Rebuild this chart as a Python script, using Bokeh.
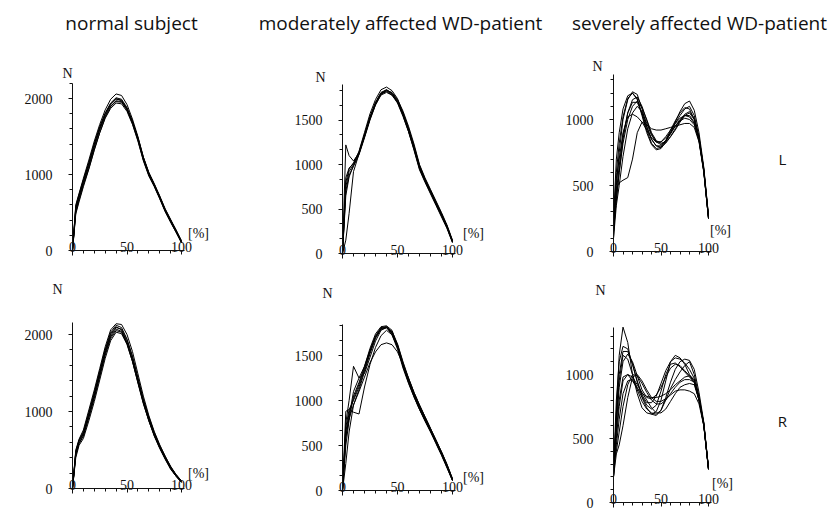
from bokeh.plotting import figure
from bokeh.layouts import row, column
from bokeh.models import Range1d, FixedTicker, Label
from bokeh.embed import file_html
from bokeh.resources import INLINE

# ---------------- data ----------------
pct = [0, 3, 6, 10, 15, 20, 25, 30, 35, 40, 45, 50, 55, 60, 65, 70, 75, 80, 85, 90, 95, 100]

titles = ["normal subject", "moderately affected WD-patient", "severely affected WD-patient"]
side_labels = ["L", "R"]
x_ticks = [0, 50, 100]

normal_L = [
    [0, 560, 720, 920, 1150, 1400, 1620, 1800, 1930, 2000, 1970, 1850, 1670, 1450, 1190, 990, 850, 690, 520, 380, 250, 110],
    [0, 520, 690, 880, 1110, 1360, 1590, 1770, 1900, 1960, 1950, 1850, 1690, 1470, 1210, 1010, 860, 700, 530, 390, 250, 100],
    [0, 600, 750, 950, 1190, 1440, 1660, 1850, 1990, 2060, 2040, 1920, 1730, 1500, 1230, 1020, 870, 710, 540, 400, 260, 120],
    [0, 500, 660, 860, 1080, 1330, 1550, 1740, 1870, 1940, 1930, 1830, 1660, 1440, 1180, 980, 840, 680, 510, 370, 240, 100],
    [0, 540, 710, 900, 1130, 1380, 1600, 1790, 1920, 1990, 1980, 1870, 1700, 1480, 1220, 1020, 870, 710, 540, 400, 270, 130],
    [0, 480, 640, 840, 1070, 1320, 1550, 1750, 1890, 1970, 1960, 1860, 1700, 1490, 1230, 1030, 880, 720, 550, 410, 270, 120],
    [0, 580, 740, 930, 1160, 1410, 1630, 1810, 1940, 2010, 1990, 1880, 1700, 1470, 1200, 1000, 850, 690, 520, 380, 240, 110],
]
normal_R = [
    [0, 470, 620, 720, 970, 1230, 1510, 1790, 2010, 2100, 2060, 1900, 1670, 1390, 1120, 890, 690, 530, 390, 260, 160, 80],
    [0, 430, 580, 680, 920, 1170, 1450, 1730, 1950, 2050, 2030, 1890, 1670, 1400, 1130, 900, 700, 540, 400, 270, 170, 90],
    [0, 500, 640, 760, 1020, 1280, 1560, 1840, 2060, 2140, 2130, 2000, 1780, 1490, 1200, 950, 740, 570, 420, 290, 180, 100],
    [0, 400, 560, 650, 880, 1130, 1410, 1690, 1920, 2030, 2010, 1870, 1650, 1380, 1110, 880, 690, 530, 390, 260, 160, 80],
    [0, 460, 610, 710, 960, 1210, 1490, 1770, 1990, 2090, 2070, 1930, 1710, 1430, 1150, 920, 720, 550, 410, 280, 180, 90],
    [0, 440, 590, 690, 930, 1190, 1470, 1750, 1970, 2070, 2040, 1880, 1650, 1370, 1100, 880, 680, 520, 380, 250, 160, 80],
    [0, 480, 630, 740, 990, 1250, 1530, 1810, 2030, 2120, 2090, 1940, 1720, 1440, 1160, 930, 730, 560, 420, 280, 180, 100],
]
moderate_L = [
    [0, 800, 950, 1020, 1140, 1340, 1540, 1700, 1810, 1840, 1800, 1710, 1560, 1380, 1180, 960, 820, 690, 570, 440, 310, 140],
    [0, 1220, 1100, 1040, 1130, 1320, 1520, 1680, 1790, 1820, 1780, 1690, 1540, 1370, 1170, 950, 810, 680, 550, 420, 290, 130],
    [0, 150, 450, 920, 1120, 1310, 1510, 1670, 1780, 1810, 1780, 1700, 1570, 1400, 1200, 980, 830, 700, 570, 440, 300, 130],
    [0, 700, 880, 980, 1110, 1300, 1500, 1670, 1790, 1830, 1810, 1730, 1600, 1430, 1230, 1000, 850, 720, 590, 460, 320, 150],
    [0, 750, 920, 1000, 1150, 1360, 1570, 1730, 1840, 1870, 1830, 1740, 1580, 1400, 1190, 970, 830, 700, 560, 430, 290, 130],
    [0, 650, 860, 990, 1120, 1320, 1520, 1690, 1800, 1830, 1790, 1700, 1550, 1370, 1160, 940, 800, 670, 540, 410, 280, 120],
    [0, 850, 960, 1010, 1130, 1330, 1530, 1690, 1800, 1840, 1800, 1720, 1580, 1410, 1210, 990, 840, 710, 580, 450, 310, 140],
]
moderate_R = [
    [0, 700, 900, 1000, 1150, 1340, 1540, 1700, 1800, 1820, 1740, 1590, 1380, 1210, 1060, 920, 790, 670, 540, 410, 270, 120],
    [0, 750, 1000, 1380, 1250, 1380, 1560, 1710, 1800, 1810, 1730, 1570, 1360, 1190, 1040, 900, 780, 660, 530, 400, 260, 110],
    [0, 880, 900, 870, 850, 1150, 1400, 1590, 1720, 1780, 1730, 1600, 1400, 1230, 1070, 930, 800, 680, 550, 420, 280, 120],
    [0, 500, 780, 1050, 1200, 1380, 1580, 1740, 1820, 1830, 1780, 1610, 1390, 1210, 1050, 910, 780, 660, 530, 400, 260, 110],
    [0, 300, 650, 950, 1100, 1260, 1420, 1540, 1620, 1640, 1620, 1540, 1400, 1250, 1090, 950, 820, 690, 560, 430, 290, 130],
    [0, 650, 860, 1020, 1180, 1360, 1550, 1720, 1810, 1820, 1760, 1600, 1380, 1200, 1040, 900, 770, 650, 520, 390, 250, 110],
    [0, 600, 820, 1100, 1250, 1300, 1480, 1660, 1780, 1810, 1750, 1620, 1420, 1240, 1080, 940, 810, 680, 550, 420, 280, 120],
    [0, 580, 800, 950, 1120, 1320, 1520, 1690, 1790, 1810, 1770, 1630, 1430, 1250, 1090, 950, 820, 690, 560, 430, 290, 130],
]
severe_L = [
    [150, 500, 750, 1000, 1150, 1210, 1190, 1080, 950, 850, 800, 800, 840, 900, 970, 1030, 1080, 1100, 1030, 870, 620, 260],
    [200, 600, 820, 1020, 1160, 1200, 1160, 1040, 920, 820, 780, 790, 840, 920, 990, 1050, 1090, 1080, 1000, 850, 610, 250],
    [150, 400, 600, 850, 1050, 1150, 1170, 1100, 990, 890, 830, 810, 840, 890, 950, 1000, 1030, 1030, 980, 850, 620, 260],
    [100, 350, 500, 720, 930, 1050, 1100, 1060, 970, 880, 830, 830, 870, 920, 970, 1010, 1030, 1020, 970, 840, 610, 250],
    [250, 700, 900, 1080, 1180, 1200, 1150, 1030, 900, 810, 770, 780, 830, 900, 980, 1060, 1120, 1140, 1070, 900, 640, 270],
    [100, 480, 520, 540, 560, 700, 900, 980, 960, 930, 920, 920, 930, 940, 950, 960, 970, 970, 940, 830, 600, 250],
    [200, 450, 650, 880, 1050, 1130, 1130, 1050, 940, 850, 800, 790, 820, 870, 930, 990, 1040, 1060, 1010, 860, 620, 260],
    [150, 550, 700, 900, 1020, 1040, 1020, 980, 920, 860, 830, 830, 860, 900, 950, 990, 1010, 1000, 960, 840, 610, 250],
    [200, 380, 600, 820, 1000, 1100, 1140, 1090, 1000, 900, 840, 820, 830, 870, 920, 980, 1030, 1050, 1000, 860, 630, 270],
]
severe_R = [
    [200, 700, 1150, 1370, 1250, 1000, 850, 740, 700, 690, 710, 800, 950, 1100, 1150, 1130, 1080, 1000, 950, 800, 600, 260],
    [250, 800, 1100, 1220, 1200, 1080, 940, 830, 760, 730, 760, 870, 1000, 1080, 1090, 1060, 1020, 980, 940, 800, 620, 270],
    [200, 700, 1000, 1180, 1180, 1080, 950, 840, 780, 780, 830, 930, 1030, 1100, 1130, 1120, 1090, 1040, 970, 810, 610, 260],
    [250, 600, 900, 1100, 1160, 1100, 990, 880, 820, 810, 840, 900, 980, 1050, 1080, 1070, 1030, 990, 940, 800, 610, 260],
    [300, 400, 550, 750, 920, 1000, 990, 930, 860, 800, 770, 770, 800, 850, 900, 940, 960, 960, 940, 810, 620, 270],
    [200, 380, 450, 600, 820, 980, 1000, 950, 880, 820, 790, 790, 810, 840, 870, 880, 880, 870, 850, 770, 600, 260],
    [250, 500, 750, 950, 1000, 980, 920, 860, 800, 740, 700, 700, 730, 790, 850, 900, 920, 930, 920, 800, 610, 260],
    [200, 650, 950, 1150, 1120, 1000, 880, 790, 730, 700, 690, 720, 800, 890, 960, 1020, 1070, 1100, 1000, 830, 620, 260],
    [300, 550, 800, 980, 1000, 950, 890, 850, 830, 820, 820, 830, 850, 880, 920, 950, 980, 990, 960, 820, 610, 260],
    [200, 450, 650, 850, 950, 960, 900, 820, 740, 690, 680, 720, 820, 940, 1040, 1100, 1120, 1110, 1040, 860, 630, 270],
]

# ---------------- layout / styling ----------------
SERIF = "Liberation Serif"
SANS = "Open Sans"
INK = "#111111"

# Each figure is all frame; the axes sit at fixed data locations (x=0, y=0).
# ox, oy, W, H: figure box in page px; fl, fb: page px of the data origin;
# sx: px per %, sy: px per N; ytop: top of the y axis line
panels = [
    dict(data=normal_L, ox=0, oy=0, W=250, H=268, fl=72, fb=250, sx=1.09, sy=0.076, ytop=2200, step=1000, minor=200,
         N=(67, 73), pc=(198, 233), title=(titles[0], 131, 22)),
    dict(data=moderate_L, ox=250, oy=0, W=300, H=268, fl=342, fb=253, sx=1.10, sy=0.089, ytop=1900, step=500, minor=500 / 3,
         N=(320, 77), pc=(473, 233), title=(titles[1], 400, 22)),
    dict(data=severe_L, ox=550, oy=0, W=280, H=268, fl=613, fb=251, sx=0.95, sy=0.132, ytop=1340, step=500, minor=100,
         N=(597, 66), pc=(720, 230), title=(titles[2], 699, 22), side=(side_labels[0], 782, 158)),
    dict(data=normal_R, ox=0, oy=268, W=250, H=242, fl=72, fb=488, sx=1.09, sy=0.077, ytop=2150, step=1000, minor=200,
         N=(57, 289), pc=(198, 473)),
    dict(data=moderate_R, ox=250, oy=268, W=300, H=242, fl=342, fb=490, sx=1.10, sy=0.090, ytop=1840, step=500, minor=500 / 3,
         N=(327, 293), pc=(473, 477)),
    dict(data=severe_R, ox=550, oy=268, W=280, H=242, fl=613, fb=502, sx=0.95, sy=0.128, ytop=1370, step=500, minor=100,
         N=(600, 290), pc=(722, 483), side=(side_labels[1], 782, 420)),
]


def make_panel(s):
    x0 = (s["ox"] - s["fl"]) / s["sx"]
    x1 = (s["ox"] + s["W"] - s["fl"]) / s["sx"]
    y0 = (s["fb"] - (s["oy"] + s["H"])) / s["sy"]
    y1 = (s["fb"] - s["oy"]) / s["sy"]
    p = figure(width=s["W"], height=s["H"], output_backend="svg", toolbar_location=None,
               title=None, min_border=0, min_border_left=0, min_border_right=0,
               min_border_top=0, min_border_bottom=0,
               x_range=Range1d(x0, x1), y_range=Range1d(y0, y1))
    p.outline_line_color = None
    p.grid.visible = False
    p.background_fill_color = "white"
    p.border_fill_color = "white"

    for curve in s["data"]:
        p.line(pct, curve, line_color="#000000", line_width=1)

    # x axis, drawn at N = 0
    xa = p.xaxis[0]
    xa.fixed_location = 0
    xa.bounds = (0, 103)
    xa.ticker = FixedTicker(ticks=x_ticks, minor_ticks=list(range(0, 101, 10)))
    xa.major_label_standoff = -13
    # y axis, drawn at 0 %
    ya = p.yaxis[0]
    ya.fixed_location = 0
    ya.bounds = (-5 / s["sy"], s["ytop"])
    majors = [v for v in range(0, int(s["ytop"]) + 1, s["step"])]
    minors = []
    k = 0
    while k * s["minor"] <= s["ytop"]:
        minors.append(k * s["minor"])
        k += 1
    ya.ticker = FixedTicker(ticks=majors, minor_ticks=minors)
    ya.major_label_standoff = 16
    for ax in (xa, ya):
        ax.axis_line_color = INK
        ax.axis_line_width = 1
        ax.major_tick_line_color = INK
        ax.minor_tick_line_color = INK
        ax.major_tick_out = 4
        ax.major_tick_in = 0
        ax.minor_tick_out = 3
        ax.minor_tick_in = 0
        ax.major_label_text_font = SERIF
        ax.major_label_text_font_size = "14px"
        ax.major_label_text_color = INK

    def to_data(px, py):
        return (px - s["fl"]) / s["sx"], (s["fb"] - py) / s["sy"]

    x, y = to_data(*s["N"])
    p.add_layout(Label(x=x, y=y, text="N", text_font=SERIF, text_font_size="14px",
                       text_color=INK, text_align="center", text_baseline="middle"))
    x, y = to_data(*s["pc"])
    p.add_layout(Label(x=x, y=y, text="[%]", text_font=SERIF, text_font_size="14px",
                       text_color=INK, text_align="center", text_baseline="middle"))
    if "title" in s:
        t, tx, ty = s["title"]
        x, y = to_data(tx, ty)
        p.add_layout(Label(x=x, y=y, text=t, text_font=SANS, text_font_size="19px",
                           text_color=INK, text_align="center", text_baseline="middle"))
    if "side" in s:
        t, tx, ty = s["side"]
        x, y = to_data(tx, ty)
        p.add_layout(Label(x=x, y=y, text=t, text_font=SANS, text_font_size="15px",
                           text_color=INK, text_align="center", text_baseline="middle"))
    return p


figs = [make_panel(s) for s in panels]
layout = column(row(*figs[:3], spacing=0), row(*figs[3:], spacing=0), spacing=0)

open("out.html", "w").write(file_html(layout, INLINE))
